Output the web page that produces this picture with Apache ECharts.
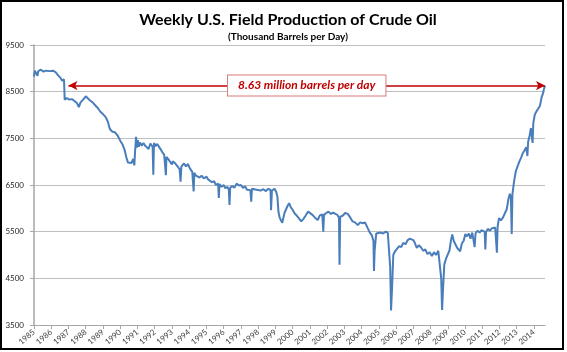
<!DOCTYPE html>
<html>
<head>
<meta charset="utf-8">
<title>Weekly U.S. Field Production of Crude Oil</title>
<script src="https://cdn.jsdelivr.net/npm/echarts@6/dist/echarts.min.js"></script>
<style>
  html, body { margin: 0; padding: 0; background: #fff; }
  #main { width: 567px; height: 352px; }
</style>
</head>
<body>
<div id="main"></div>
<script>
// time as decimal years (spikes = hurricanes etc.)
const weeks = [
  1985.00, 1985.05, 1985.15, 1985.20, 1985.25, 1985.40, 1985.55, 1985.70, 1985.90, 1986.10,
  1986.25, 1986.40, 1986.55, 1986.62, 1986.70, 1986.74, 1986.78, 1986.90, 1987.05, 1987.20,
  1987.35, 1987.50, 1987.60, 1987.70, 1987.85, 1988.00, 1988.10, 1988.25, 1988.40, 1988.55,
  1988.70, 1988.85, 1989.00, 1989.15, 1989.28, 1989.40, 1989.55, 1989.70, 1989.85, 1990.00,
  1990.12, 1990.25, 1990.35, 1990.45, 1990.55, 1990.65, 1990.75, 1990.82, 1990.86, 1990.92,
  1990.97, 1991.02, 1991.08, 1991.15, 1991.25, 1991.35, 1991.45, 1991.55, 1991.65, 1991.75,
  1991.88, 1991.92, 1991.96, 1992.05, 1992.15, 1992.30, 1992.45, 1992.55, 1992.62, 1992.65,
  1992.68, 1992.80, 1992.90, 1993.00, 1993.05, 1993.20, 1993.35, 1993.45, 1993.50, 1993.55,
  1993.70, 1993.82, 1993.92, 1994.05, 1994.18, 1994.26, 1994.30, 1994.40, 1994.50, 1994.60,
  1994.72, 1994.85, 1995.00, 1995.10, 1995.20, 1995.32, 1995.45, 1995.55, 1995.68, 1995.72,
  1995.76, 1995.88, 1996.00, 1996.10, 1996.22, 1996.30, 1996.34, 1996.38, 1996.50, 1996.62,
  1996.75, 1996.88, 1997.00, 1997.12, 1997.25, 1997.35, 1997.45, 1997.55, 1997.60, 1997.64,
  1997.75, 1997.90, 1998.00, 1998.15, 1998.30, 1998.45, 1998.60, 1998.72, 1998.75, 1998.80,
  1998.95, 1999.05, 1999.12, 1999.18, 1999.25, 1999.33, 1999.40, 1999.47, 1999.53, 1999.62,
  1999.72, 1999.80, 1999.90, 2000.00, 2000.12, 2000.25, 2000.38, 2000.50, 2000.62, 2000.75,
  2000.90, 2001.00, 2001.15, 2001.30, 2001.46, 2001.58, 2001.72, 2001.78, 2001.82, 2001.95,
  2002.08, 2002.22, 2002.35, 2002.48, 2002.60, 2002.69, 2002.72, 2002.76, 2002.90, 2003.05,
  2003.20, 2003.35, 2003.48, 2003.62, 2003.78, 2003.92, 2004.08, 2004.20, 2004.35, 2004.48,
  2004.60, 2004.69, 2004.72, 2004.76, 2004.85, 2004.95, 2005.10, 2005.25, 2005.40, 2005.52,
  2005.60, 2005.66, 2005.71, 2005.77, 2005.84, 2005.94, 2006.05, 2006.18, 2006.30, 2006.42,
  2006.55, 2006.68, 2006.80, 2006.90, 2007.00, 2007.10, 2007.20, 2007.32, 2007.45, 2007.58,
  2007.70, 2007.82, 2007.95, 2008.08, 2008.20, 2008.32, 2008.45, 2008.56, 2008.62, 2008.67,
  2008.73, 2008.80, 2008.90, 2009.00, 2009.10, 2009.18, 2009.26, 2009.35, 2009.45, 2009.55,
  2009.65, 2009.72, 2009.82, 2009.92, 2010.02, 2010.12, 2010.22, 2010.32, 2010.42, 2010.52,
  2010.56, 2010.61, 2010.72, 2010.85, 2010.95, 2011.05, 2011.14, 2011.18, 2011.22, 2011.32,
  2011.45, 2011.55, 2011.65, 2011.75, 2011.81, 2011.85, 2011.89, 2011.97, 2012.08, 2012.20,
  2012.32, 2012.42, 2012.52, 2012.60, 2012.66, 2012.71, 2012.75, 2012.84, 2012.95, 2013.05,
  2013.15, 2013.25, 2013.35, 2013.45, 2013.55, 2013.62, 2013.66, 2013.75, 2013.82, 2013.88,
  2013.92, 2013.96, 2014.05, 2014.15, 2014.25, 2014.35, 2014.45, 2014.52, 2014.58, 2014.64
];
// thousand barrels per day
const production = [
  8820, 8950, 8960, 8840, 8940, 8970, 8930, 8950, 8940, 8950,
  8920, 8850, 8790, 8740, 8720, 8760, 8330, 8360, 8330, 8340,
  8300, 8250, 8170, 8270, 8330, 8400, 8360, 8310, 8270, 8210,
  8150, 8070, 8020, 7960, 7860, 7700, 7640, 7630, 7560, 7450,
  7380, 7260, 7100, 6980, 7010, 6970, 7060, 6920, 7200, 7530,
  7300, 7460, 7320, 7410, 7340, 7400, 7340, 7380, 7270, 7390,
  7320, 6720, 7400, 7330, 7380, 7290, 7200, 7150, 7120, 6710,
  7100, 7050, 7010, 6940, 7010, 6960, 6890, 6830, 6570, 6900,
  6960, 6900, 6950, 6850, 6780, 6360, 6760, 6700, 6740, 6660,
  6700, 6640, 6680, 6620, 6650, 6560, 6580, 6500, 6530, 6220,
  6520, 6460, 6500, 6430, 6460, 6400, 6070, 6440, 6480, 6440,
  6530, 6490, 6500, 6440, 6470, 6400, 6440, 6390, 6140, 6420,
  6440, 6400, 6430, 6380, 6410, 6370, 6420, 6390, 5960, 6380,
  6420, 6350, 6250, 5920, 5800, 5740, 5690, 5700, 5900, 5980,
  6060, 6110, 6020, 5970, 5890, 5840, 5780, 5720, 5770, 5840,
  5930, 5890, 5860, 5800, 5750, 5850, 5870, 5500, 5860, 5900,
  5930, 5880, 5910, 5880, 5860, 5800, 4790, 5820, 5840, 5900,
  5880, 5800, 5720, 5700, 5640, 5700, 5680, 5700, 5580, 5480,
  5420, 5300, 4660, 5100, 5460, 5420, 5480, 5460, 5500, 5480,
  5500, 4750, 3810, 4300, 5000, 5080, 5120, 5190, 5170, 5260,
  5230, 5320, 5350, 5390, 5320, 5250, 5150, 5210, 5160, 5090,
  5120, 5020, 5060, 4980, 5060, 5000, 5090, 5060, 4500, 3820,
  4300, 4800, 4920, 4880, 5100, 5300, 5440, 5300, 5260, 5150,
  5180, 5080, 5250, 5300, 5450, 5400, 5460, 5350, 5480, 5450,
  5170, 5460, 5520, 5480, 5530, 5490, 5500, 5120, 5490, 5560,
  5520, 5570, 5540, 5590, 5560, 5050, 5600, 5790, 5740, 5800,
  5900, 5980, 6200, 6310, 6240, 5450, 6300, 6560, 6800, 6900,
  7000, 7080, 7180, 7240, 7310, 7120, 7420, 7560, 7720, 7700,
  7400, 7820, 8010, 8080, 8140, 8200, 8390, 8460, 8560, 8630
];
const yearLabels = [];
for (let y = 1985; y <= 2014; y++) yearLabels.push(y);
const annotation = '8.63 million barrels per day';
const annotationLevel = 8630;
const annotationStart = 1987.0;

const seriesData = weeks.map((w, i) => [w, production[i]]);

const chart = echarts.init(document.getElementById('main'));
chart.setOption({
  animation: false,
  backgroundColor: '#fff',
  title: [
    {
      text: 'Weekly U.S. Field Production of Crude Oil',
      left: 283, top: 7, textAlign: 'center',
      textStyle: { fontFamily: 'Lato', fontSize: 16, fontWeight: 'bold', color: '#000' }
    },
    {
      text: '(Thousand Barrels per Day)',
      left: 283, top: 27, textAlign: 'center',
      textStyle: { fontFamily: 'Lato', fontSize: 10, fontWeight: 'bold', color: '#000' }
    }
  ],
  graphic: [{
    type: 'rect', silent: true, z: 100,
    shape: { x: 1, y: 1, width: 562, height: 348 },
    style: { fill: 'none', stroke: '#000', lineWidth: 2 }
  }],
  grid: { left: 34, right: 22, top: 45, bottom: 27 },
  xAxis: {
    type: 'value',
    min: 1985,
    max: weeks[weeks.length - 1],
    splitLine: { show: false },
    axisLine: { show: true, lineStyle: { color: '#a6a6a6', width: 1 } },
    axisTick: { show: true, customValues: yearLabels, length: 4, lineStyle: { color: '#a6a6a6' } },
    axisLabel: {
      customValues: yearLabels, rotate: 40, margin: 6,
      fontFamily: 'Lato', fontSize: 8, color: '#404040',
      formatter: v => String(Math.round(v))
    }
  },
  yAxis: {
    type: 'value',
    min: 3500, max: 9500, interval: 1000,
    axisLine: { show: true, lineStyle: { color: '#a6a6a6', width: 1.5 } },
    axisTick: { show: true, length: 4, lineStyle: { color: '#a6a6a6' } },
    splitLine: { lineStyle: { color: '#bfbfbf', width: 1 } },
    axisLabel: { fontFamily: 'Lato', fontSize: 8, color: '#262626', margin: 10, formatter: v => String(v) }
  },
  series: [{
    type: 'line',
    data: seriesData,
    showSymbol: false,
    lineStyle: { color: '#4a7ebb', width: 2 },
    itemStyle: { color: '#4a7ebb' },
    markLine: {
      silent: true,
      symbol: ['arrow', 'arrow'],
      symbolSize: [7, 9],
      lineStyle: { color: '#c00000', width: 1.5, type: 'solid' },
      label: {
        show: true, position: 'middle', distance: 0, verticalAlign: 'middle',
        formatter: annotation,
        fontFamily: 'Lato', fontSize: 12, fontStyle: 'italic', fontWeight: 'bold',
        color: '#c00000', backgroundColor: '#fff',
        borderColor: '#d77b7b', borderWidth: 1, padding: [4, 10]
      },
      data: [[
        { coord: [annotationStart, annotationLevel] },
        { coord: [weeks[weeks.length - 1], annotationLevel] }
      ]]
    }
  }]
});
</script>
</body>
</html>
